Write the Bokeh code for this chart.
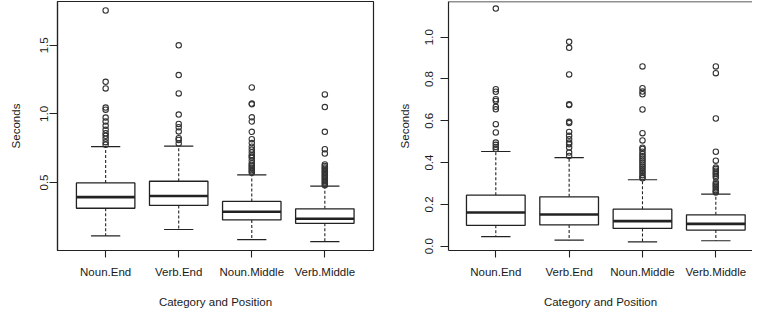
from bokeh.plotting import figure
from bokeh.models import ColumnDataSource, FixedTicker, Range1d, Span
from bokeh.layouts import row
from bokeh.embed import file_html
from bokeh.resources import INLINE

# ---------------- data ----------------
categories = ["Noun.End", "Verb.End", "Noun.Middle", "Verb.Middle"]
positions = [1, 2, 3, 4]

# left panel
left_lower = [0.111, 0.157, 0.084, 0.069]
left_q1 = [0.312, 0.333, 0.227, 0.202]
left_median = [0.393, 0.401, 0.287, 0.235]
left_q3 = [0.497, 0.509, 0.362, 0.308]
left_upper = [0.761, 0.765, 0.555, 0.474]
left_out_noun_end = [1.754, 1.234, 1.186, 1.046, 1.031, 0.973, 0.944, 0.913, 0.884,
                     0.859, 0.840, 0.819, 0.794, 0.775]
left_out_verb_end = [1.500, 1.283, 1.149, 0.995, 0.927, 0.903, 0.872, 0.823, 0.810, 0.785]
left_out_noun_middle = [1.193, 1.075, 1.070, 0.975, 0.944, 0.869, 0.816, 0.787, 0.761,
                        0.740, 0.720, 0.700, 0.690, 0.680, 0.660, 0.640, 0.630, 0.620,
                        0.610, 0.600, 0.590, 0.580, 0.570]
left_out_verb_middle = [1.142, 1.050, 0.869, 0.743, 0.711, 0.631, 0.620, 0.610, 0.600,
                        0.590, 0.580, 0.570, 0.560, 0.550, 0.540, 0.530, 0.520, 0.510,
                        0.500, 0.490, 0.480]
left_ticks = [0.5, 1.0, 1.5]
left_tick_labels = ["0.5", "1.0", "1.5"]

# right panel
right_lower = [0.046, 0.029, 0.021, 0.026]
right_q1 = [0.100, 0.102, 0.085, 0.077]
right_median = [0.161, 0.152, 0.120, 0.107]
right_q3 = [0.244, 0.236, 0.177, 0.150]
right_upper = [0.453, 0.424, 0.318, 0.249]
right_out_noun_end = [1.137, 0.751, 0.739, 0.703, 0.695, 0.667, 0.655, 0.584, 0.544,
                      0.496, 0.485, 0.475, 0.465]
right_out_verb_end = [0.978, 0.949, 0.822, 0.679, 0.675, 0.595, 0.589, 0.547, 0.528,
                      0.512, 0.496, 0.488, 0.472, 0.448, 0.432]
right_out_noun_middle = [0.860, 0.756, 0.740, 0.727, 0.654, 0.541, 0.506, 0.471, 0.465,
                         0.452, 0.440, 0.430, 0.420, 0.410, 0.400, 0.390, 0.380, 0.370,
                         0.360, 0.350, 0.340, 0.330, 0.325]
right_out_verb_middle = [0.860, 0.828, 0.611, 0.452, 0.409, 0.377, 0.370, 0.361, 0.353,
                         0.345, 0.337, 0.329, 0.305, 0.297, 0.290, 0.284, 0.276, 0.268,
                         0.262, 0.257]
right_ticks = [0.0, 0.2, 0.4, 0.6, 0.8, 1.0]
right_tick_labels = ["0.0", "0.2", "0.4", "0.6", "0.8", "1.0"]

x_title = "Category and Position"
y_title = "Seconds"

# ---------------- style ----------------
INK = "#222222"
FONT = "Liberation Sans"
BOX_W = 0.8
STAPLE_W = 0.4


def make_panel(lower, q1, med, q3, upper, outliers, yticks, ytick_labels,
               xr, yr, width, height, bl, br, bt, bb, outline,
               tick_standoff, label_standoff):
    p = figure(width=width, height=height, output_backend="svg",
               toolbar_location=None, x_range=Range1d(*xr), y_range=Range1d(*yr),
               min_border_left=bl, min_border_right=br,
               min_border_top=bt, min_border_bottom=bb)
    p.xgrid.visible = False
    p.ygrid.visible = False
    p.background_fill_color = "white"
    p.border_fill_color = "white"
    if outline:
        p.outline_line_color = INK
        p.outline_line_width = 1.2
    else:
        p.outline_line_color = None
        p.add_layout(Span(location=yr[1], dimension="width",
                          line_color=INK, line_width=1.3))

    src = ColumnDataSource(dict(
        x=positions, lower=lower, q1=q1, med=med, q3=q3, upper=upper,
        bx0=[x - BOX_W / 2 for x in positions], bx1=[x + BOX_W / 2 for x in positions],
        sx0=[x - STAPLE_W / 2 for x in positions], sx1=[x + STAPLE_W / 2 for x in positions],
    ))
    # whiskers (dashed)
    p.segment(x0="x", y0="q3", x1="x", y1="upper", source=src,
              line_color=INK, line_width=1.1, line_dash="3 2")
    p.segment(x0="x", y0="q1", x1="x", y1="lower", source=src,
              line_color=INK, line_width=1.1, line_dash="3 2")
    # staples
    p.segment(x0="sx0", y0="upper", x1="sx1", y1="upper", source=src,
              line_color=INK, line_width=1.2)
    p.segment(x0="sx0", y0="lower", x1="sx1", y1="lower", source=src,
              line_color=INK, line_width=1.2)
    # boxes
    p.vbar(x="x", width=BOX_W, bottom="q1", top="q3", source=src,
           fill_color="white", line_color=INK, line_width=1.3)
    # medians
    p.segment(x0="bx0", y0="med", x1="bx1", y1="med", source=src,
              line_color=INK, line_width=2.6)
    # outliers
    ox, oy = [], []
    for x, vals in zip(positions, outliers):
        ox += [x] * len(vals)
        oy += vals
    p.scatter(ox, oy, marker="circle", size=5.4, fill_color=None,
              line_color="#333333", line_width=1.1)

    # axes
    for ax in (p.xaxis[0], p.yaxis[0]):
        ax.axis_line_color = INK
        ax.axis_line_width = 1.2
        ax.major_tick_line_color = INK
        ax.major_tick_line_width = 1.1
        ax.major_tick_in = 0
        ax.major_tick_out = 7
        ax.minor_tick_line_color = None
        ax.major_label_text_font = FONT
        ax.major_label_text_font_size = "11.5px"
        ax.major_label_text_color = "#1a1a1a"
        ax.axis_label_text_font = FONT
        ax.axis_label_text_font_size = "11.5px"
        ax.axis_label_text_font_style = "normal"
        ax.axis_label_text_color = "#1a1a1a"

    p.xaxis.ticker = FixedTicker(ticks=positions)
    p.xaxis.major_label_overrides = {x: c for x, c in zip(positions, categories)}
    p.xaxis.axis_label = x_title
    p.xaxis.major_label_standoff = 8
    p.xaxis.axis_label_standoff = 15

    p.yaxis.ticker = FixedTicker(ticks=yticks)
    p.yaxis.major_label_overrides = {t: l for t, l in zip(yticks, ytick_labels)}
    p.yaxis.major_label_orientation = "vertical"
    p.yaxis.axis_label = y_title
    p.yaxis.major_tick_out = 8
    p.yaxis.major_label_standoff = tick_standoff
    p.yaxis.axis_label_standoff = label_standoff
    return p


p1 = make_panel(left_lower, left_q1, left_median, left_q3, left_upper,
                [left_out_noun_end, left_out_verb_end, left_out_noun_middle, left_out_verb_middle],
                left_ticks, left_tick_labels,
                (0.341, 4.666), (0.004, 1.8195),
                380, 317, 57, 7, 1, 66, True, 1, 16)

p2 = make_panel(right_lower, right_q1, right_median, right_q3, right_upper,
                [right_out_noun_end, right_out_verb_end, right_out_noun_middle, right_out_verb_middle],
                right_ticks, right_tick_labels,
                (0.355, 4.50), (-0.0206, 1.1708),
                372, 317, 68, 0, 1, 67, False, 7, 12)

layout = row(p1, p2)
open("out.html", "w").write(file_html(layout, INLINE))
